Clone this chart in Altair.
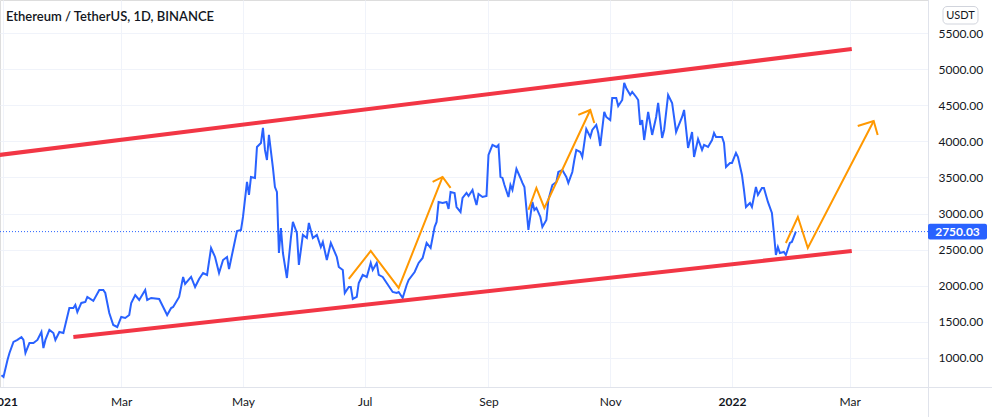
import altair as alt
import pandas as pd

# ---------------- data ----------------
eth_dates = [
    "2020-12-31", "2021-01-01", "2021-01-03", "2021-01-04", "2021-01-06", "2021-01-08", "2021-01-10",
    "2021-01-11", "2021-01-12", "2021-01-14", "2021-01-16", "2021-01-18", "2021-01-20", "2021-01-21",
    "2021-01-22", "2021-01-24", "2021-01-26", "2021-01-27", "2021-01-29", "2021-01-31", "2021-02-03",
    "2021-02-05", "2021-02-06", "2021-02-07", "2021-02-09", "2021-02-11", "2021-02-12", "2021-02-15",
    "2021-02-18", "2021-02-20", "2021-02-21", "2021-02-23", "2021-02-25", "2021-02-27", "2021-03-01",
    "2021-03-03", "2021-03-05", "2021-03-06", "2021-03-08", "2021-03-10", "2021-03-13", "2021-03-14",
    "2021-03-16", "2021-03-20", "2021-03-21", "2021-03-24", "2021-03-26", "2021-03-27", "2021-03-30",
    "2021-04-01", "2021-04-02", "2021-04-05", "2021-04-07", "2021-04-09", "2021-04-11", "2021-04-13",
    "2021-04-15", "2021-04-17", "2021-04-19", "2021-04-21", "2021-04-23", "2021-04-24", "2021-04-26",
    "2021-04-28", "2021-04-30", "2021-05-01", "2021-05-03", "2021-05-04", "2021-05-05", "2021-05-07",
    "2021-05-08", "2021-05-10", "2021-05-11", "2021-05-12", "2021-05-13", "2021-05-14", "2021-05-16",
    "2021-05-17", "2021-05-18", "2021-05-19", "2021-05-20", "2021-05-21", "2021-05-23", "2021-05-25",
    "2021-05-26", "2021-05-28", "2021-05-29", "2021-05-31", "2021-06-02", "2021-06-03", "2021-06-05",
    "2021-06-07", "2021-06-09", "2021-06-10", "2021-06-12", "2021-06-14", "2021-06-17", "2021-06-18",
    "2021-06-20", "2021-06-21", "2021-06-23", "2021-06-24", "2021-06-25", "2021-06-27", "2021-06-28",
    "2021-06-30", "2021-07-02", "2021-07-04", "2021-07-05", "2021-07-07", "2021-07-08", "2021-07-10",
    "2021-07-12", "2021-07-15", "2021-07-17", "2021-07-18", "2021-07-20", "2021-07-22", "2021-07-23",
    "2021-07-26", "2021-07-28", "2021-07-30", "2021-08-01", "2021-08-03", "2021-08-05", "2021-08-06",
    "2021-08-07", "2021-08-09", "2021-08-11", "2021-08-12", "2021-08-13", "2021-08-15", "2021-08-16",
    "2021-08-18", "2021-08-19", "2021-08-21", "2021-08-22", "2021-08-24", "2021-08-25", "2021-08-26",
    "2021-08-27", "2021-08-29", "2021-08-31", "2021-09-01", "2021-09-02", "2021-09-03", "2021-09-05",
    "2021-09-06", "2021-09-07", "2021-09-08", "2021-09-09", "2021-09-11", "2021-09-12", "2021-09-13",
    "2021-09-15", "2021-09-17", "2021-09-18", "2021-09-19", "2021-09-21", "2021-09-23", "2021-09-24",
    "2021-09-25", "2021-09-27", "2021-09-28", "2021-09-30", "2021-10-01", "2021-10-03", "2021-10-05",
    "2021-10-06", "2021-10-08", "2021-10-10", "2021-10-11", "2021-10-13", "2021-10-14", "2021-10-15",
    "2021-10-17", "2021-10-18", "2021-10-20", "2021-10-22", "2021-10-23", "2021-10-25", "2021-10-26",
    "2021-10-27", "2021-10-29", "2021-10-30", "2021-11-01", "2021-11-02", "2021-11-04", "2021-11-05",
    "2021-11-07", "2021-11-08", "2021-11-09", "2021-11-11", "2021-11-12", "2021-11-14", "2021-11-15",
    "2021-11-16", "2021-11-17", "2021-11-18", "2021-11-20", "2021-11-22", "2021-11-24", "2021-11-25",
    "2021-11-27", "2021-11-28", "2021-11-30", "2021-12-02", "2021-12-04", "2021-12-05", "2021-12-07",
    "2021-12-08", "2021-12-10", "2021-12-12", "2021-12-13", "2021-12-15", "2021-12-17", "2021-12-18",
    "2021-12-20", "2021-12-22", "2021-12-23", "2021-12-24", "2021-12-27", "2021-12-28", "2021-12-29",
    "2021-12-31", "2022-01-01", "2022-01-03", "2022-01-04", "2022-01-06", "2022-01-07", "2022-01-08",
    "2022-01-10", "2022-01-11", "2022-01-13", "2022-01-14", "2022-01-16", "2022-01-17", "2022-01-19",
    "2022-01-21", "2022-01-22", "2022-01-23", "2022-01-24", "2022-01-25", "2022-01-27", "2022-01-28",
    "2022-01-30", "2022-01-31", "2022-02-02",
]
eth_close = [
    760, 737, 972, 1069, 1222, 1250, 1290,
    1250, 1069, 1208, 1208, 1250, 1360, 1138,
    1250, 1388, 1346, 1250, 1360, 1346, 1692,
    1692, 1734, 1637, 1762, 1776, 1845, 1790,
    1941, 1941, 1900, 1623, 1457, 1429, 1568,
    1554, 1595, 1762, 1872, 1803, 1941, 1803,
    1831, 1817, 1762, 1595, 1692, 1706, 1845,
    2122, 2025, 2122, 1983, 2094, 2177, 2149,
    2523, 2399, 2177, 2357, 2399, 2232, 2496,
    2758, 2773, 2953, 3438, 3258, 3507, 3493,
    3922, 3978, 4186, 3881, 3742, 4089, 3632,
    3368, 3299, 2454, 2800, 2454, 2108, 2662,
    2884, 2731, 2288, 2704, 2662, 2870, 2662,
    2704, 2537, 2607, 2357, 2593, 2399, 2260,
    2219, 1900, 1983, 1983, 1817, 1845, 2039,
    2150, 2122, 2316, 2219, 2316, 2150, 2122,
    2039, 1914, 1900, 1914, 1831, 2011, 2080,
    2191, 2316, 2385, 2593, 2524, 2814, 2884,
    3161, 3147, 3161, 3064, 3299, 3285, 3091,
    3022, 3216, 3285, 3244, 3327, 3216, 3119,
    3271, 3230, 3244, 3812, 3881, 3950, 3922,
    3950, 3507, 3493, 3396, 3230, 3396, 3327,
    3618, 3493, 3424, 3368, 2773, 3161, 3050,
    3078, 2953, 2814, 2911, 3188, 3396, 3438,
    3576, 3604, 3507, 3424, 3576, 3742, 3881,
    3853, 3784, 4172, 4061, 4158, 4227, 4116,
    3936, 4407, 4338, 4296, 4601, 4601, 4490,
    4573, 4809, 4740, 4643, 4684, 4615, 4573,
    4227, 4296, 4019, 4407, 4089, 4338, 4532,
    4047, 4158, 4643, 4532, 4130, 4200, 4338,
    4435, 3909, 4130, 3784, 4033, 3881, 3950,
    3922, 4019, 4116, 4061, 4061, 3978, 3645,
    3701, 3701, 3839, 3784, 3535, 3327, 3091,
    3147, 3091, 3368, 3258, 3355, 3355, 3161,
    3008, 2731, 2427, 2537, 2454, 2468, 2427,
    2593, 2607, 2750.03,
]

# red channel lines
upper_dates = ["2020-12-30", "2022-03-02"]
upper_prices = [3812, 5280]
lower_dates = ["2021-02-05", "2022-03-02"]
lower_prices = [1291, 2482]

# orange projected paths and their arrow heads
wave1_dates = ["2021-06-23", "2021-07-04", "2021-07-18", "2021-08-09"]
wave1_prices = [2094, 2482, 1970, 3507]
head1_dates = ["2021-08-04", "2021-08-09", "2021-08-13"]
head1_prices = [3438, 3507, 3355]

wave2_dates = ["2021-09-21", "2021-09-25", "2021-09-29", "2021-10-22"]
wave2_prices = [3050, 3355, 3078, 4435]
head2_dates = ["2021-10-16", "2021-10-22", "2021-10-24"]
head2_prices = [4366, 4435, 4255]

wave3_dates = ["2022-01-28", "2022-02-03", "2022-02-08", "2022-03-13"]
wave3_prices = [2593, 2953, 2524, 4282]
head3_dates = ["2022-03-05", "2022-03-13", "2022-03-15"]
head3_prices = [4213, 4282, 4089]

last_price = 2750.03
last_label = "2750.03"
price_ticks = [1000, 1500, 2000, 2500, 3000, 3500, 4000, 4500, 5000, 5500]
title_text = "Ethereum / TetherUS, 1D, BINANCE"
currency = "USDT"

# ---------------- tables ----------------
eth = pd.DataFrame({"date": eth_dates, "price": eth_close})

chan = pd.concat([
    pd.DataFrame({"date": upper_dates, "price": upper_prices, "g": "upper"}),
    pd.DataFrame({"date": lower_dates, "price": lower_prices, "g": "lower"}),
])

paths = []
for name, d, p in [("w1", wave1_dates, wave1_prices), ("h1", head1_dates, head1_prices),
                   ("w2", wave2_dates, wave2_prices), ("h2", head2_dates, head2_prices),
                   ("w3", wave3_dates, wave3_prices), ("h3", head3_dates, head3_prices)]:
    paths.append(pd.DataFrame({"date": d, "price": p, "g": name, "o": list(range(len(d)))}))
orange = pd.concat(paths)

W, H = 928, 387
x_scale = alt.Scale(type="utc", domain=["2020-12-30T06:00:00Z", "2022-04-09T05:00:00Z"])
y_scale = alt.Scale(domain=[598, 5958], nice=False, zero=False)

tick_dates = [
    alt.DateTime(year=2021, month=1, date=1, utc=True),
    alt.DateTime(year=2021, month=3, date=1, utc=True),
    alt.DateTime(year=2021, month=5, date=1, utc=True),
    alt.DateTime(year=2021, month=7, date=1, utc=True),
    alt.DateTime(year=2021, month=9, date=1, utc=True),
    alt.DateTime(year=2021, month=11, date=1, utc=True),
    alt.DateTime(year=2022, month=1, date=1, utc=True),
    alt.DateTime(year=2022, month=3, date=1, utc=True),
]

x_axis = alt.Axis(
    values=tick_dates, title=None, ticks=False, domain=False, grid=True,
    gridColor="#f0f3fa", labelFlush=False, labelOverlap=False, labelPadding=9,
    labelFontSize=12, labelColor="#131722",
    labelExpr="utcFormat(datum.value, '%m') == '01' ? utcFormat(datum.value, '%Y') : utcFormat(datum.value, '%b')",
    labelFontWeight={"condition": {"test": "utcFormat(datum.value, '%m') == '01'", "value": "bold"},
                     "value": "normal"},
)
y_axis = alt.Axis(
    values=price_ticks, orient="right", title=None, ticks=False, domain=False,
    grid=True, gridColor="#f0f3fa", format=".2f", labelPadding=10,
    labelFontSize=12, labelColor="#131722", labelAlign="left",
)

X = alt.X("date:T", scale=x_scale, axis=x_axis)
Y = alt.Y("price:Q", scale=y_scale, axis=y_axis)

one = pd.DataFrame({"a": [0]})

price_line = alt.Chart(one).mark_rule(color="#2962FF", strokeDash=[1, 2], strokeWidth=1).encode(
    y=alt.Y(datum=last_price, scale=y_scale, axis=y_axis)
)

eth_line = alt.Chart(eth).mark_line(color="#2962FF", strokeWidth=2).encode(x=X, y=Y)

red = alt.Chart(chan).mark_line(color="#F23645", strokeWidth=4, strokeCap="butt").encode(
    x=X, y=Y, detail="g:N"
)

orng = alt.Chart(orange).mark_line(color="#FF9800", strokeWidth=2).encode(
    x=X, y=Y, detail="g:N", order="o:Q"
)

title = alt.Chart(one).mark_text(
    text=title_text, align="left", baseline="middle", fontSize=13, color="#131722", fontWeight=600
).encode(x=alt.value(6), y=alt.value(17))

label_box = alt.Chart(one).mark_rect(color="#2962FF", cornerRadius=2).encode(
    x=alt.value(928), x2=alt.value(987),
    y=alt.Y(datum=last_price - 110, scale=y_scale), y2=alt.Y2(datum=last_price + 110),
)
label_txt = alt.Chart(one).mark_text(
    text=last_label, color="white", fontWeight="bold", fontSize=12, align="center", baseline="middle"
).encode(x=alt.value(957.5), y=alt.Y(datum=last_price, scale=y_scale))

usdt_box = alt.Chart(one).mark_rect(fill="white", stroke="#d1d4dc", cornerRadius=4, strokeWidth=1).encode(
    x=alt.value(943), x2=alt.value(978), y=alt.value(6.5), y2=alt.value(24)
)
usdt_txt = alt.Chart(one).mark_text(
    text=currency, fontSize=11, color="#131722", align="center", baseline="middle"
).encode(x=alt.value(960.5), y=alt.value(15.5))

hline = alt.Chart(one).mark_rule(color="#e0e3eb", strokeWidth=1).encode(
    x=alt.value(0), x2=alt.value(992), y=alt.value(387.5)
)
vline = alt.Chart(one).mark_rule(color="#e0e3eb", strokeWidth=1).encode(
    x=alt.value(928.5), y=alt.value(0), y2=alt.value(417)
)

chart = alt.layer(
    price_line, eth_line, red, orng, title, hline, vline, label_box, label_txt, usdt_box, usdt_txt
).properties(
    width=W, height=H,
    padding={"left": 0, "top": 0, "right": 64, "bottom": 30},
    autosize=alt.AutoSizeParams(type="none"),
    background="white",
).configure_view(stroke=None).configure(font="Lato")

chart.save("out.html", embed_options={"renderer": "svg", "actions": False})
